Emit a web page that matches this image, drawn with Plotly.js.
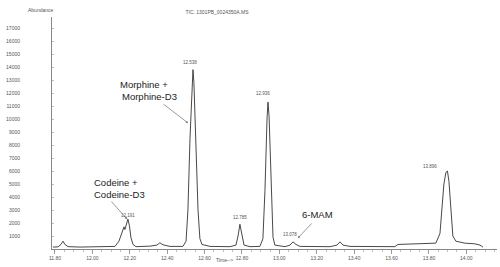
<!DOCTYPE html>
<html>
<head>
<meta charset="utf-8">
<script src="https://cdn.plot.ly/plotly-3.0.1.min.js"></script>
<style>html,body{margin:0;padding:0;background:#fff;}#chart{width:500px;height:267px;}</style>
</head>
<body>
<div id="chart"></div>
<script>
// Retention time (min) and abundance
const times = [11.789, 11.816, 11.832, 11.843, 11.853, 11.870, 11.934, 12.041, 12.094, 12.121,
  12.142, 12.158, 12.169, 12.174, 12.185, 12.190, 12.198, 12.206, 12.217, 12.233,
  12.308, 12.345, 12.361, 12.378, 12.415, 12.484, 12.501, 12.511, 12.522, 12.533,
  12.538, 12.543, 12.554, 12.565, 12.575, 12.586, 12.629, 12.736, 12.768, 12.779,
  12.789, 12.800, 12.811, 12.843, 12.896, 12.912, 12.923, 12.934, 12.939, 12.945,
  12.955, 12.966, 12.976, 13.030, 13.057, 13.073, 13.089, 13.110, 13.271, 13.308,
  13.324, 13.340, 13.378, 13.591, 13.618, 13.634, 13.752, 13.837, 13.859, 13.870,
  13.880, 13.891, 13.899, 13.907, 13.918, 13.928, 13.944, 13.992, 14.045, 14.073, 14.089];
const abundance = [150, 160, 350, 600, 350, 180, 150, 170, 140, 200,
  600, 1300, 1700, 1500, 2100, 2300, 1800, 900, 350, 180,
  220, 300, 480, 320, 200, 200, 600, 3000, 8500, 12800,
  13800, 12800, 8000, 3000, 800, 350, 200, 180, 300, 1000,
  1900, 1000, 300, 180, 200, 800, 4500, 10000, 11300, 10200,
  5000, 900, 300, 180, 300, 550, 350, 200, 180, 300,
  550, 300, 200, 150, 180, 350, 400, 450, 1200, 3000,
  5000, 5900, 6000, 5200, 2500, 1000, 600, 450, 400, 300, 150];

// Peak labels
const peakTimes = [12.190, 12.538, 12.789, 12.939, 13.073, 13.899];
const peakHeights = [2300, 13800, 1900, 11300, 550, 6000];
const peakLabels = ["12.191", "12.538", "12.785", "12.936", "13.078", "13.896"];

// Axis ticks
const xTickVals = [11.8, 12.0, 12.2, 12.4, 12.6, 12.8, 13.0, 13.2, 13.4, 13.6, 13.8, 14.0];
const xTickText = ["11.80", "12.00", "12.20", "12.40", "12.60", "12.80", "13.00", "13.20", "13.40", "13.60", "13.80", "14.00"];
const yTickVals = [1000, 2000, 3000, 4000, 5000, 6000, 7000, 8000, 9000, 10000, 11000, 12000, 13000, 14000, 15000, 16000, 17000];
const yTickText = ["1000", "2000", "3000", "4000", "5000", "6000", "7000", "8000", "9000", "10000", "11000", "12000", "13000", "14000", "15000", "16000", "17000"];

// Compound annotations
const compoundLines = ["Morphine +", "Morphine-D3", "Codeine +", "Codeine-D3", "6-MAM"];

// ---- layout helpers (pixel geometry of the plot area) ----
const L = 52, R = 497, T = 17, B = 249;
const px = x => (x - L) / (R - L);
const py = y => (B - y) / (B - T);

const textPos = [[118, 84], [120, 96], [92, 182], [92, 194], [300, 214]];
const arrows = [[162, 103, 188, 123], [110, 200, 127, 219], [313, 222, 298, 238]];
const peakShift = [[0, 4], [-3, 7], [0, 7], [-5, 9], [-3, 7], [-17, 5]];

const FONT = 'Liberation Sans, Arial, sans-serif';
const annotations = [];
compoundLines.forEach((t, i) => {
  annotations.push({text: t, xref: 'paper', yref: 'paper', x: px(textPos[i][0]), y: py(textPos[i][1]),
    xanchor: 'left', yanchor: 'middle', showarrow: false,
    font: {family: FONT, size: 9.5, color: '#222'}});
});
arrows.forEach(a => {
  annotations.push({text: '', xref: 'paper', yref: 'paper', x: px(a[2]), y: py(a[3]),
    ax: a[0] - a[2], ay: a[1] - a[3], showarrow: true, arrowhead: 2, arrowsize: 0.7,
    arrowwidth: 0.6, arrowcolor: '#555'});
});
peakLabels.forEach((t, i) => {
  annotations.push({text: t, xref: 'x', yref: 'y', x: peakTimes[i], y: peakHeights[i],
    xshift: peakShift[i][0], yshift: peakShift[i][1], showarrow: false,
    font: {family: FONT, size: 4.5, color: '#555'}});
});
annotations.push({text: 'Abundance', xref: 'paper', yref: 'paper', x: px(26), y: py(5),
  showarrow: false, font: {family: FONT, size: 5, color: '#555'}});
annotations.push({text: 'Time-->', xref: 'paper', yref: 'paper', x: px(224), y: py(265),
  showarrow: false, font: {family: FONT, size: 5, color: '#555'}});

const trace = {
  x: times, y: abundance, type: 'scatter', mode: 'lines',
  line: {color: '#333', width: 0.9}, hoverinfo: 'skip'
};

const layout = {
  width: 500, height: 267,
  margin: {l: L, r: 500 - R, t: T, b: 267 - B, pad: 0},
  paper_bgcolor: '#fff', plot_bgcolor: '#fff',
  showlegend: false,
  title: {text: 'TIC: 1301PB_0024350A.MS', x: 217 / 500, xanchor: 'center', xref: 'container',
    y: 1 - 12 / 267, yanchor: 'middle', yref: 'container',
    font: {family: FONT, size: 5, color: '#555'}},
  xaxis: {
    range: [11.784, 14.164], showgrid: false, zeroline: false,
    showline: true, linecolor: '#888', linewidth: 1,
    tickmode: 'array', tickvals: xTickVals, ticktext: xTickText,
    ticks: 'outside', ticklen: 4, tickcolor: '#888', tickwidth: 0.8,
    minor: {dtick: 0.05, tick0: 11.8, ticks: 'outside', ticklen: 2, tickcolor: '#999', tickwidth: 0.6},
    tickfont: {family: FONT, size: 5, color: '#555'}
  },
  yaxis: {
    range: [0, 17850], showgrid: false, zeroline: false,
    showline: true, linecolor: '#888', linewidth: 1,
    tickmode: 'array', tickvals: yTickVals, ticktext: yTickText,
    ticks: 'inside', ticklen: 2, tickcolor: '#999', tickwidth: 0.6,
    ticklabelstandoff: 30,
    tickfont: {family: FONT, size: 5, color: '#555'}
  },
  annotations: annotations
};

Plotly.newPlot('chart', [trace], layout, {displayModeBar: false, staticPlot: true});
</script>
</body>
</html>
